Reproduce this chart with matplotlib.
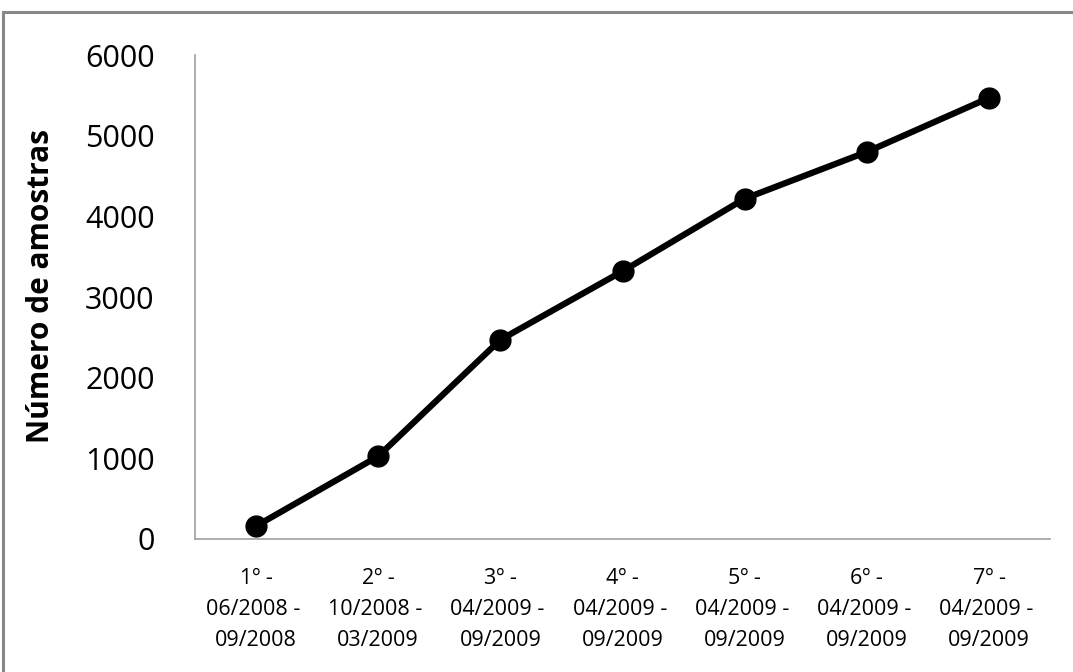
import matplotlib.pyplot as plt
from matplotlib.lines import Line2D

periodos = ['1º -\n06/2008 - \n09/2008', '2º -\n10/2008 - \n03/2009', '3º -\n04/2009 - \n09/2009',
            '4º -\n04/2009 - \n09/2009', '5º -\n04/2009 - \n09/2009', '6º -\n04/2009 - \n09/2009',
            '7º -\n04/2009 - \n09/2009']
amostras = [160, 1025, 2470, 3320, 4220, 4800, 5470]
yticks = [0, 1000, 2000, 3000, 4000, 5000, 6000]

plt.rcParams['font.family'] = ['Open Sans', 'DejaVu Sans']

fig = plt.figure(figsize=(10.73, 6.72), dpi=100)
ax = fig.add_axes([0.1817, 0.198, 0.797, 0.72])

x = list(range(len(amostras)))
ax.plot(x, amostras, color='black', lw=4.5, marker='o', ms=15, solid_capstyle='round')

ax.set_xlim(-0.5, len(amostras) - 0.5)
ax.set_ylim(0, 6000)
ax.set_yticks(yticks)
ax.set_yticklabels([str(v) for v in yticks], fontsize=22)
ax.set_xticks(x)
ax.set_xticklabels(periodos, fontsize=15.5, linespacing=1.62)
ax.tick_params(axis='both', length=0)
ax.tick_params(axis='y', pad=29)
ax.tick_params(axis='x', pad=21)

for s in ['top', 'right']:
    ax.spines[s].set_visible(False)
for s in ['left', 'bottom']:
    ax.spines[s].set_color('#a0a0a0')
    ax.spines[s].set_linewidth(1.2)

ax.set_ylabel('Número de amostras', fontsize=21.5, fontweight='bold')
ax.yaxis.set_label_coords(-0.162, 0.523)

# moldura externa
fig.add_artist(Line2D([3 / 1073, 3 / 1073], [0, 1 - 12 / 672], color='#888888', lw=2.2, transform=fig.transFigure))
fig.add_artist(Line2D([3 / 1073, 1], [1 - 12 / 672, 1 - 12 / 672], color='#888888', lw=2.2, transform=fig.transFigure))

fig.savefig('out.png', dpi=100)
